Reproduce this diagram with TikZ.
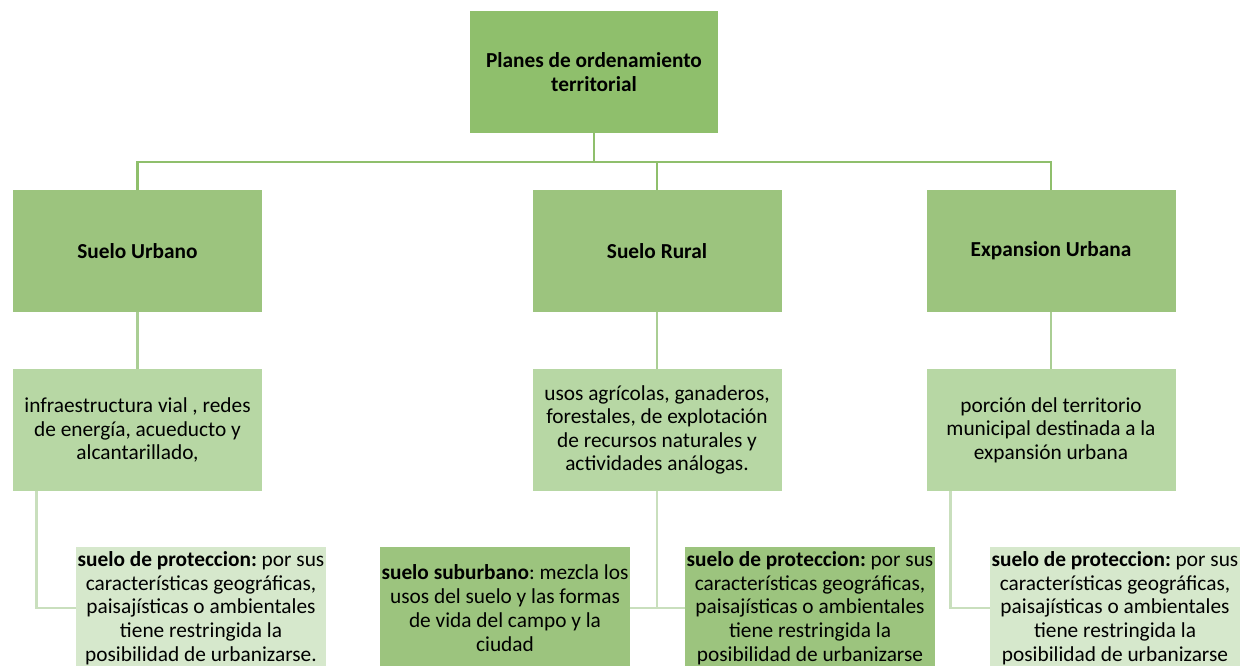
\documentclass[tikz,border=0pt]{standalone}
\usepackage{fontspec}
\setmainfont{Carlito}
\usetikzlibrary{positioning}
\frenchspacing

\definecolor{topgreen}{RGB}{143,191,108}
\definecolor{midgreen}{RGB}{156,196,126}
\definecolor{lightgreen}{RGB}{183,215,164}
\definecolor{palegreen}{RGB}{214,232,204}
\definecolor{linegreen}{RGB}{170,206,148}
\definecolor{paleline}{RGB}{201,223,189}

\begin{document}
\begin{tikzpicture}[
    x=0.75pt, y=-0.75pt,
    plan/.style={rectangle, fill=topgreen, minimum width=186pt, minimum height=91.5pt, align=center, font=\fontsize{16}{18}\selectfont\bfseries},
    suelo/.style={rectangle, fill=midgreen, minimum width=186.75pt, minimum height=91.5pt, align=center, font=\fontsize{16}{18}\selectfont\bfseries},
    uso/.style={rectangle, fill=lightgreen, minimum width=186.75pt, minimum height=91.5pt, align=center, inner sep=1pt, font=\fontsize{16}{17.5}\selectfont},
    detalle/.style={rectangle, fill=midgreen, minimum width=187.5pt, minimum height=91.5pt, align=center, inner sep=0.5pt, font=\fontsize{16}{17.8}\selectfont},
    detalle_light/.style={detalle, fill=palegreen},
    link_top/.style={draw=topgreen, line width=2pt},
    link/.style={draw=linegreen, line width=2pt},
    link_light/.style={draw=paleline, line width=2.2pt}
  ]
  \useasboundingbox (0,0) rectangle (1248,666);

  % Top of the tree
  \node[plan] (plan) at (594,72) {Planes de ordenamiento\\territorial};

  % Classes of land
  \node[suelo] (urbano) at (137.5,251) {Suelo Urbano};
  \node[suelo] (rural) at (657,251) {Suelo Rural};
  \node[suelo] (expansion) at (1051,251) {Expansion Urbana};

  % Uses
  \node[uso] (infra) at (137.5,430) {infraestructura vial , redes\\de energ\'ia, acueducto y\\alcantarillado,};
  \node[uso] (usos) at (657,430) {usos agr\'icolas, ganaderos,\\forestales, de explotaci\'on\\de recursos naturales y\\actividades an\'alogas.};
  \node[uso] (porcion) at (1051,430) {porci\'on del territorio\\municipal destinada a la\\expansi\'on urbana};

  % Sub-classes
  \node[detalle_light] (proteccion1) at (201,608) {\textbf{suelo de proteccion:} por sus\\caracter\'isticas geogr\'aficas,\\paisaj\'isticas o ambientales\\tiene restringida la\\posibilidad de urbanizarse.};
  \node[detalle] (suburbano) at (505,608) {\textbf{suelo suburbano}: mezcla los\\usos del suelo y las formas\\de vida del campo y la\\ciudad};
  \node[detalle] (proteccion2) at (810,608) {\textbf{suelo de proteccion:} por sus\\caracter\'isticas geogr\'aficas,\\paisaj\'isticas o ambientales\\tiene restringida la\\posibilidad de urbanizarse};
  \node[detalle_light] (proteccion3) at (1115,608) {\textbf{suelo de proteccion:} por sus\\caracter\'isticas geogr\'aficas,\\paisaj\'isticas o ambientales\\tiene restringida la\\posibilidad de urbanizarse};

  % Tree connectors
  \coordinate (bus) at (594,162);
  \draw[link_top] (plan) -- (bus);
  \draw[link_top] (urbano.north) |- (bus) -| (expansion.north);
  \draw[link_top] (rural.north) -- (rural.north |- bus);

  \draw[link] (urbano) -- (infra);
  \draw[link] (rural) -- (usos);
  \draw[link] (expansion) -- (porcion);

  \draw[link_light] ([xshift=18pt]infra.south west) |- (proteccion1.west);
  \draw[link_light] (usos.south) -- (usos.south |- suburbano.east);
  \draw[link_light] (suburbano.east) -- (proteccion2.west);
  \draw[link_light] ([xshift=18pt]porcion.south west) |- (proteccion3.west);

\end{tikzpicture}
\end{document}
